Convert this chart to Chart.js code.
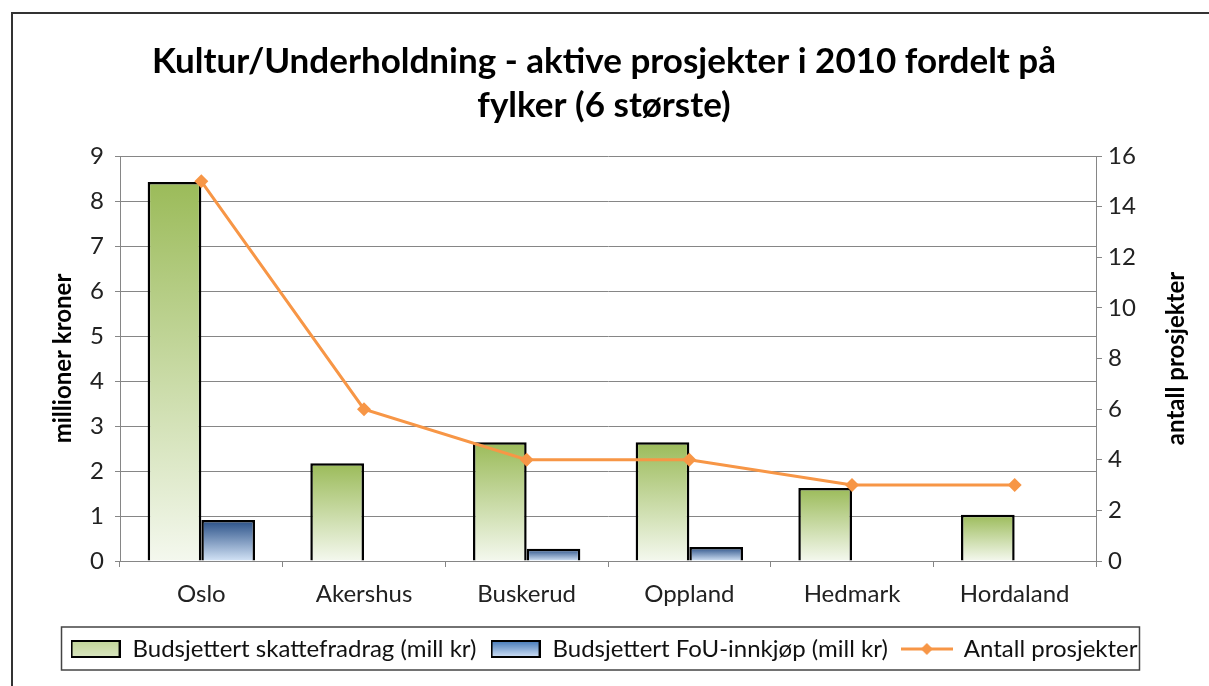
<!DOCTYPE html>
<html>
<head>
<meta charset="utf-8">
<script src="https://cdn.jsdelivr.net/npm/chart.js@4"></script>
<style>
  html, body { margin: 0; padding: 0; background: #fff; overflow: hidden; }
  #wrap { width: 1209px; height: 686px; }
</style>
</head>
<body>
<div id="wrap"><canvas id="chart" width="1209" height="686"></canvas></div>
<script>
const categories = ["Oslo", "Akershus", "Buskerud", "Oppland", "Hedmark", "Hordaland"];
const skattefradrag = [8.42, 2.17, 2.64, 2.64, 1.62, 1.03];
const fouInnkjop = [0.91, null, 0.27, 0.31, null, null];
const antallProsjekter = [15, 6, 4, 4, 3, 3];

const seriesNames = [
  "Budsjettert skattefradrag (mill kr)",
  "Budsjettert FoU-innkjøp (mill kr)",
  "Antall prosjekter",
];

const FONT = "Lato, 'Liberation Sans', sans-serif";
const ORANGE = "#f79646";

// vertical gradient per bar, from its top down to zero
function barGradient(top, bottom) {
  return (c) => {
    const chart = c.chart;
    if (c.type !== "data" || !chart.chartArea || c.raw == null) return top;
    const ys = chart.scales.y;
    const y0 = ys.getPixelForValue(c.raw);
    const y1 = ys.getPixelForValue(0);
    const g = chart.ctx.createLinearGradient(0, y0, 0, y1);
    g.addColorStop(0, top);
    g.addColorStop(1, bottom);
    return g;
  };
}

// little pictures for the legend
function boxImg(top, bottom) {
  const c = document.createElement("canvas");
  c.width = 50; c.height = 18;
  const x = c.getContext("2d");
  const g = x.createLinearGradient(0, 2, 0, 16);
  g.addColorStop(0, top);
  g.addColorStop(1, bottom);
  x.fillStyle = g;
  x.fillRect(1, 1, 48, 16);
  x.lineWidth = 2;
  x.strokeStyle = "#000";
  x.strokeRect(1, 1, 48, 16);
  return c;
}
function lineImg() {
  const c = document.createElement("canvas");
  c.width = 52; c.height = 18;
  const x = c.getContext("2d");
  x.strokeStyle = ORANGE;
  x.lineWidth = 3;
  x.beginPath(); x.moveTo(0, 9); x.lineTo(52, 9); x.stroke();
  x.fillStyle = ORANGE;
  x.beginPath(); x.moveTo(26, 3); x.lineTo(32, 9); x.lineTo(26, 15); x.lineTo(20, 9); x.closePath(); x.fill();
  return c;
}
const legendImgs = [boxImg("#c3d69b", "#d7e4bd"), boxImg("#4f81bd", "#c6d9f1"), lineImg()];

const framePlugin = {
  id: "frame",
  afterDraw(chart) {
    const ctx = chart.ctx;
    ctx.save();
    // outer chart border (only top and left are inside the picture)
    ctx.strokeStyle = "#333";
    ctx.lineWidth = 2;
    ctx.beginPath();
    ctx.moveTo(12, 700); ctx.lineTo(12, 13); ctx.lineTo(1230, 13);
    ctx.stroke();
    // legend box
    const hb = chart.legend.legendHitBoxes;
    if (hb && hb.length) {
      const first = hb[0], last = hb[hb.length - 1];
      const l = first.left - 9, r = last.left + last.width + 2;
      const t = first.top - 10, b = first.top + first.height + 9;
      ctx.strokeStyle = "#444";
      ctx.lineWidth = 1.5;
      ctx.strokeRect(l, t, r - l, b - t);
    }
    // right axis title reads bottom to top
    const ca = chart.chartArea;
    ctx.translate(1176, (ca.top + ca.bottom) / 2);
    ctx.rotate(-Math.PI / 2);
    ctx.fillStyle = "#000";
    ctx.font = "bold 24px " + FONT;
    ctx.textAlign = "center";
    ctx.textBaseline = "middle";
    ctx.fillText("antall prosjekter", 0, 0);
    ctx.restore();
  },
};

new Chart(document.getElementById("chart"), {
  type: "bar",
  data: {
    labels: categories,
    datasets: [
      {
        type: "line",
        label: seriesNames[2],
        data: antallProsjekter,
        yAxisID: "y1",
        borderColor: ORANGE,
        backgroundColor: ORANGE,
        borderWidth: 3,
        pointStyle: "rectRot",
        pointRadius: 7,
        pointBorderWidth: 0,
        tension: 0,
        order: -1,
      },
      {
        label: seriesNames[0],
        data: skattefradrag,
        yAxisID: "y",
        backgroundColor: barGradient("#9bbb59", "#f4f8ee"),
        borderColor: "#000",
        borderWidth: 2.5,
        categoryPercentage: 0.66,
        barPercentage: 1,
      },
      {
        label: seriesNames[1],
        data: fouInnkjop,
        yAxisID: "y",
        backgroundColor: barGradient("#274e86", "#d3e3f6"),
        borderColor: "#000",
        borderWidth: 2.5,
        categoryPercentage: 0.66,
        barPercentage: 1,
      },
    ],
  },
  options: {
    responsive: false,
    animation: false,
    layout: { padding: { left: 12, right: 13, top: 0, bottom: 15 } },
    scales: {
      x: {
        offset: true,
        grid: { drawOnChartArea: false, offset: true, tickLength: 6, color: "#868686" },
        border: { color: "#868686" },
        ticks: { color: "#222", font: { family: FONT, size: 24 }, padding: 13 },
        afterFit: (s) => { s.height = 62; },
      },
      y: {
        position: "left",
        min: 0,
        max: 9,
        ticks: { stepSize: 1, color: "#222", font: { family: FONT, size: 24 }, padding: 11 },
        grid: { color: "#868686", tickLength: 5 },
        border: { color: "#868686" },
        title: {
          display: true,
          text: "millioner kroner",
          color: "#000",
          font: { family: FONT, size: 24, weight: "bold" },
          padding: { top: 37, bottom: 0 },
        },
        afterFit: (s) => { s.width = 108; },
      },
      y1: {
        position: "right",
        min: 0,
        max: 16,
        ticks: { stepSize: 2, color: "#222", font: { family: FONT, size: 24 }, padding: 6 },
        grid: { drawOnChartArea: false, color: "#868686", tickLength: 6 },
        border: { color: "#868686" },
        afterFit: (s) => { s.width = 100; },
      },
    },
    plugins: {
      title: {
        display: true,
        text: ["Kultur/Underholdning - aktive prosjekter i 2010 fordelt på", "fylker (6 største)"],
        color: "#000",
        font: { family: FONT, size: 35, weight: "bold", lineHeight: 1.25 },
        padding: { top: 40, bottom: 28.5 },
      },
      legend: {
        position: "bottom",
        labels: {
          usePointStyle: true,
          pointStyleWidth: 50,
          color: "#111",
          font: { family: FONT, size: 24 },
          padding: 14,
          generateLabels: () => [0, 1, 2].map((i) => ({
            text: seriesNames[i],
            pointStyle: legendImgs[i],
            fillStyle: "transparent",
            strokeStyle: "transparent",
            lineWidth: 0,
            datasetIndex: i,
            fontColor: "#111",
          })),
        },
      },
      tooltip: { enabled: false },
    },
  },
  plugins: [framePlugin],
});
</script>
</body>
</html>
